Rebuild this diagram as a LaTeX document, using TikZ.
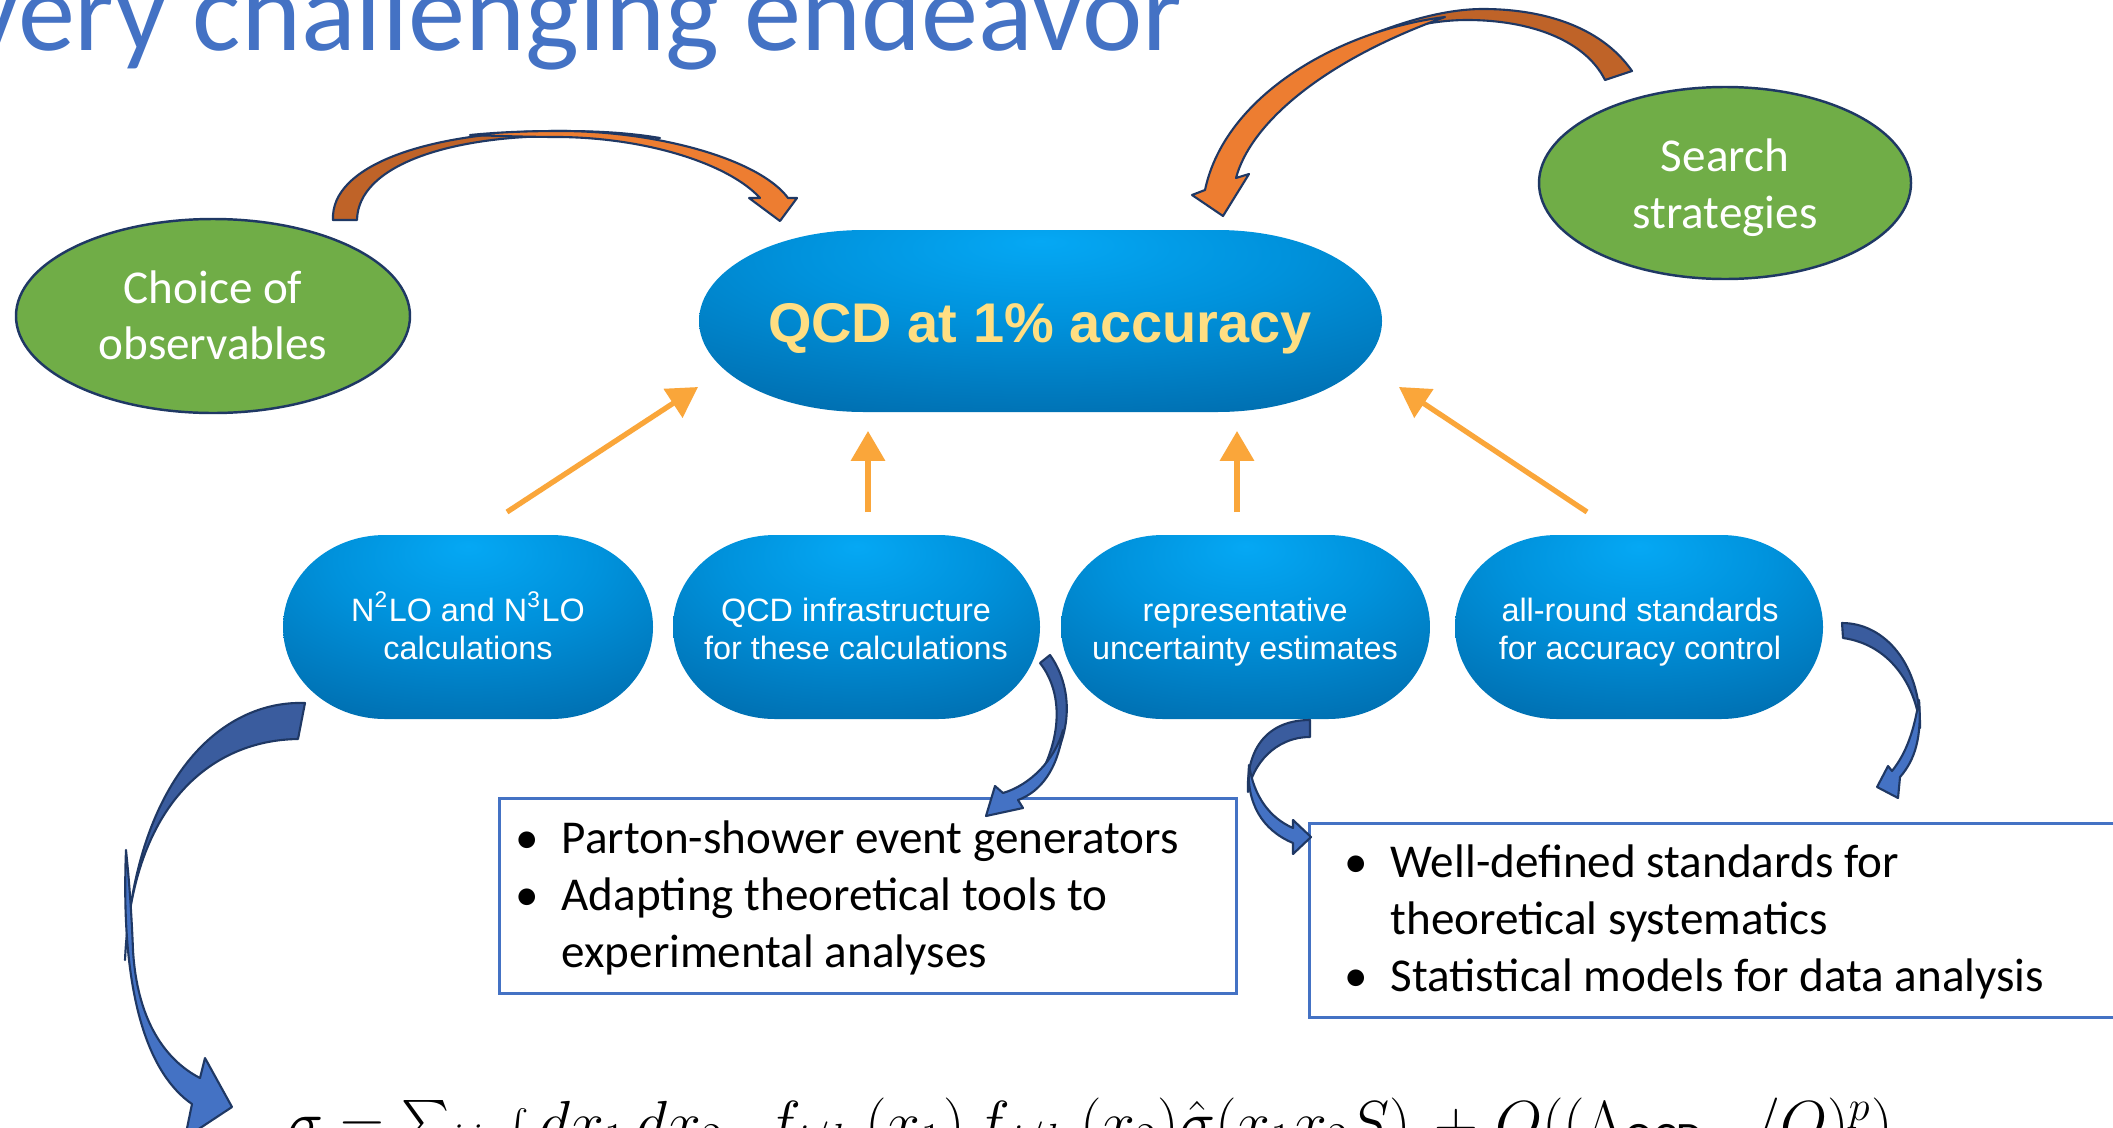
\documentclass[tikz,border=0pt]{standalone}
\usepackage{fontspec}
\setmainfont{Carlito}
\newfontfamily\arialfont{Liberation Sans}
\usetikzlibrary{arrows.meta}

\definecolor{navy}{HTML}{1F3864}
\definecolor{leaf}{HTML}{70AD47}
\definecolor{orFront}{HTML}{ED7D31}
\definecolor{orBack}{HTML}{BF6328}
\definecolor{bLight}{HTML}{4472C4}
\definecolor{bDark}{HTML}{3A5C9E}
\definecolor{thinOr}{HTML}{FAA63A}
\definecolor{gold}{HTML}{FFDE82}
\definecolor{glowA}{HTML}{05A8F4}
\definecolor{glowB}{HTML}{0092DC}
\definecolor{glowC}{HTML}{0068A8}
\definecolor{glowD}{HTML}{00518B}

% bright spot above the middle, darker towards the rims
\pgfdeclareradialshading{pillglow}{\pgfpoint{0bp}{22bp}}{color(0bp)=(glowA); color(18bp)=(glowB); color(46bp)=(glowC); color(66bp)=(glowD); color(100bp)=(glowD)}

% rounded box with elliptical ends: left, top, right, bottom, corner x radius
\newcommand\pillshape[5]{%
  \pgfmathsetmacro\pym{(#2+#4)/2}%
  \pgfmathsetmacro\pry{(#4-#2)/2}%
  \path[shading=pillglow] (#1,\pym)
    arc[start angle=180,end angle=270,x radius=#5,y radius=\pry]
    -- ({#3-#5},#2)
    arc[start angle=270,end angle=360,x radius=#5,y radius=\pry]
    arc[start angle=0,end angle=90,x radius=#5,y radius=\pry]
    -- ({#1+#5},#4)
    arc[start angle=90,end angle=180,x radius=#5,y radius=\pry] -- cycle;}

\tikzset{
  ellfill/.style={fill=leaf, draw=navy, line width=0.7pt},
  elltxt/.style={text=white, font=\fontsize{13.4}{16}\selectfont, anchor=base, inner sep=0pt},
  pilltxt/.style={text=white, font=\arialfont\fontsize{9.2}{11}\selectfont, anchor=base, inner sep=0pt},
  bultxt/.style={text=black, font=\fontsize{13.4}{16}\selectfont, anchor=base west, inner sep=0pt},
  mathpart/.style={text=black, font=\fontsize{17.6}{21}\selectfont, anchor=base west, inner sep=0pt},
  listbox/.style={draw=bLight, line width=0.85pt, fill=white},
  upline/.style={draw=thinOr, line width=1.5pt, -{Triangle[length=8.5pt,width=9.5pt]}},
  oback/.style={fill=orBack, draw=navy, line width=0.6pt, line join=round},
  ofront/.style={fill=orFront, draw=navy, line width=0.6pt, line join=round},
  bback/.style={fill=bDark, draw=navy, line width=0.6pt, line join=round},
  bfront/.style={fill=bLight, draw=navy, line width=0.6pt, line join=round}
}

\begin{document}
\begin{tikzpicture}[x=0.01cm, y=-0.01cm]
\useasboundingbox (0,0) rectangle (2113,1127);
\fill[white] (0,0) rectangle (2113,1127);
\clip (0,0) rectangle (2113,1127);

% heading
\node[text=bLight, font=\fontsize{32.5}{38}\selectfont, anchor=base east, inner sep=0pt]
  (title) at (1183,50) {very challenging endeavor};

% green ellipses
\draw[ellfill] (213,316) ellipse[x radius=197, y radius=97];
\node[elltxt] (obs1) at (213,303) {Choice of};
\node[elltxt] (obs2) at (213,359) {observables};
\draw[ellfill] (1725,183) ellipse[x radius=186, y radius=96];
\node[elltxt] (srch1) at (1725,171) {Search};
\node[elltxt] (srch2) at (1725,228) {strategies};

% central goal
\pillshape{699}{230}{1382}{412}{165}
\node[text=gold, font=\arialfont\bfseries\fontsize{15.9}{19}\selectfont, anchor=base, inner sep=0pt]
  (goal) at (1040,342) {QCD at 1\% accuracy};

% four ingredients
\pillshape{283}{535}{653}{719}{102}
\pillshape{673}{535}{1040}{719}{102}
\pillshape{1061}{535}{1430}{719}{102}
\pillshape{1455}{535}{1823}{719}{102}
\node[pilltxt] (p1a) at (468,621) {N\textsuperscript{2}LO and N\textsuperscript{3}LO};
\node[pilltxt] (p1b) at (468,659) {calculations};
\node[pilltxt] (p2a) at (856,621) {QCD infrastructure};
\node[pilltxt] (p2b) at (856,659) {for these calculations};
\node[pilltxt] (p3a) at (1245,621) {representative};
\node[pilltxt] (p3b) at (1245,659) {uncertainty estimates};
\node[pilltxt] (p4a) at (1640,621) {all-round standards};
\node[pilltxt] (p4b) at (1640,659) {for accuracy control};

% arrows up to the goal
\coordinate (u1s) at (507,512);  \coordinate (u1e) at (698,387);
\coordinate (u2s) at (868,512);  \coordinate (u2e) at (868,431);
\coordinate (u3s) at (1237,512); \coordinate (u3e) at (1237,431);
\coordinate (u4s) at (1587,512); \coordinate (u4e) at (1399,387);
\draw[upline] (u1s) -- (u1e);
\draw[upline] (u2s) -- (u2e);
\draw[upline] (u3s) -- (u3e);
\draw[upline] (u4s) -- (u4e);

% bullet boxes
\draw[listbox] (499,798) rectangle (1236,993);
\node[bultxt] (b1d) at (515,853) {\textbullet};
\node[bultxt] (b1a) at (561,853) {Parton-shower event generators};
\node[bultxt] (b2d) at (515,910) {\textbullet};
\node[bultxt] (b2a) at (561,910) {Adapting theoretical tools to};
\node[bultxt] (b2b) at (561,967) {experimental analyses};

\draw[listbox] (1309,823) rectangle (2140,1017);
\node[bultxt] (c1d) at (1344,877) {\textbullet};
\node[bultxt] (c1a) at (1390,877) {Well-defined standards for};
\node[bultxt] (c1b) at (1390,934) {theoretical systematics};
\node[bultxt] (c2d) at (1344,991) {\textbullet};
\node[bultxt] (c2a) at (1390,991) {Statistical models for data analysis};

% curved orange arrows into the goal
\path[oback] (333,220) .. controls (330,165) and (430,131) .. (560,131)
  .. controls (600,131) and (630,133) .. (660,138)
  .. controls (630,136) and (600,136) .. (560,136)
  .. controls (450,136) and (358,165) .. (357,220) -- cycle;
\path[ofront] (470,135) .. controls (500,132) and (530,131) .. (560,131)
  .. controls (660,131) and (760,160) .. (788,198) -- (797,198) -- (780,221)
  -- (749,198) -- (760,198) .. controls (730,165) and (650,138) .. (560,137)
  .. controls (530,137) and (500,136) .. (470,135) -- cycle;

\path[oback] (1632,71) .. controls (1600,25) and (1540,9) .. (1483,9)
  .. controls (1440,9) and (1390,25) .. (1340,48)
  .. controls (1390,30) and (1430,20) .. (1467,20)
  .. controls (1530,20) and (1585,40) .. (1605,80) -- cycle;
\path[ofront] (1445,17) .. controls (1340,30) and (1225,95) .. (1205,190)
  -- (1192,195) -- (1223,216) -- (1249,174) -- (1236,178)
  .. controls (1250,125) and (1320,62) .. (1445,17) -- cycle;

% curved blue arrows towards the details
\path[bback] (305,703) .. controls (220,700) and (135,780) .. (125,960)
  .. controls (132,800) and (215,740) .. (298,739) -- cycle;
\path[bfront] (126,850) .. controls (120,1000) and (150,1075) .. (192,1104)
  -- (185,1138) -- (232,1107) -- (205,1058) -- (200,1078)
  .. controls (165,1060) and (137,1020) .. (133,950)
  .. controls (131,900) and (128,870) .. (126,850) -- cycle;

\path[bback] (1050,655) .. controls (1075,690) and (1075,745) .. (1030,792)
  .. controls (1062,745) and (1065,695) .. (1040,663) -- cycle;
\path[bfront] (1063,730) .. controls (1058,770) and (1040,792) .. (1018,800)
  -- (1023,808) -- (986,816) -- (995,786) -- (1003,793)
  .. controls (1030,785) and (1055,760) .. (1063,730) -- cycle;

\path[bback] (1310,720) .. controls (1268,720) and (1246,748) .. (1248,792)
  .. controls (1252,765) and (1275,737) .. (1310,737) -- cycle;
\path[bfront] (1249,765) .. controls (1246,803) and (1262,830) .. (1293,843)
  -- (1293,854) -- (1311,837) -- (1293,820) -- (1293,828)
  .. controls (1270,818) and (1254,797) .. (1249,765) -- cycle;

\path[bback] (1842,623) .. controls (1885,623) and (1921,665) .. (1920,728)
  .. controls (1917,690) and (1893,645) .. (1843,638) -- cycle;
\path[bfront] (1919,700) .. controls (1922,737) and (1915,760) .. (1900,777)
  -- (1898,798) -- (1877,787) -- (1888,766) -- (1892,771)
  .. controls (1907,752) and (1914,730) .. (1919,700) -- cycle;

% cross section formula, set in pieces along one baseline
\node[mathpart] (xs1) at (287,1143) {$\sigma=\mathop{\scalebox{1.3}{$\sum$}}\nolimits_{ij}$};
\node[mathpart] (xs2) at (505,1143) {$\int dx_1\,dx_2$};
\node[mathpart] (xs3) at (765,1143) {$f_{i/h}\,(x_1)\,f_{j/h}\,(x_2)\hat{\sigma}(x_1x_2S)$};
\node[mathpart] (xs5) at (1434,1143) {$+\mkern5mu O((\Lambda_{\mathrm{QCD}}\mkern14mu/Q)^p)$};
\end{tikzpicture}
\end{document}
